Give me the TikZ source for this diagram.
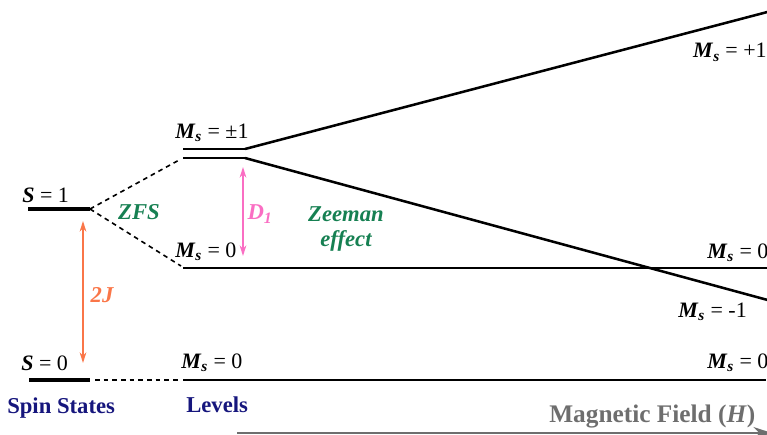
\documentclass[tikz,border=0pt]{standalone}
\usepackage{fontspec}
\setmainfont{Liberation Serif}
\usetikzlibrary{positioning, arrows.meta}
\definecolor{exchorange}{RGB}{250,118,72}
\definecolor{zfspink}{RGB}{250,110,195}
\definecolor{zeemangreen}{RGB}{22,128,82}
\definecolor{captionblue}{RGB}{22,22,125}
\definecolor{fieldgray}{RGB}{110,110,110}

\newcommand{\Mlab}[1]{\textbf{\textit{M}}\textsubscript{\textbf{\textit{s}}} = #1}
\newcommand{\Slab}[1]{\textbf{\textit{S}} = #1}

\begin{document}
\begin{tikzpicture}[x=0.75pt, y=-0.75pt,
    every node/.style={font=\fontsize{16.5}{19}\selectfont, inner sep=0pt},
    spinlevel/.style={line width=2.4pt},
    mslevel/.style={line width=1.9pt},
    zeeman/.style={line width=1.9pt},
    corr/.style={line width=1.2pt, dash pattern=on 3.5pt off 3pt},
    lab/.style={anchor=base west},
    gap/.style={line width=1.1pt, {Stealth[length=8pt,width=5pt]}-{Stealth[length=8pt,width=5pt]}},
    caption/.style={anchor=base west, text=captionblue, font=\fontsize{17}{19}\selectfont\bfseries},
    effect/.style={text=zeemangreen, align=center, font=\fontsize{17}{19}\selectfont\bfseries\itshape},
  ]
    \useasboundingbox (0,0) rectangle (767,435);
    \clip (0,0) rectangle (767,435);
    % spin states
    \coordinate (S1a) at (28,209);  \coordinate (S1b) at (90,209);
    \coordinate (S0a) at (29,380);  \coordinate (S0b) at (90,380);
    \draw[spinlevel] (S1a) -- (S1b);
    \draw[spinlevel] (S0a) -- (S0b);
    % zero-field levels
    \coordinate (Pa) at (183,149);  \coordinate (Pb) at (245,149);
    \coordinate (Ma) at (183,158);  \coordinate (Mb) at (245,158);
    \coordinate (Za) at (183,268);  \coordinate (Zb) at (770,268);
    \coordinate (Ga) at (183,380);  \coordinate (Gb) at (766,380);
    \draw[mslevel] (Pa) -- (Pb);
    \draw[mslevel] (Ma) -- (Mb);
    \draw[mslevel] (Za) -- (Zb);
    \draw[mslevel] (Ga) -- (Gb);
    % Zeeman branches
    \coordinate (Pend) at (775,10);
    \coordinate (Mend) at (775,302);
    \draw[zeeman] (Pb) -- (Pend);
    \draw[zeeman] (Mb) -- (Mend);
    % correlation lines
    \draw[corr] (S1b) -- (181,159);
    \draw[corr] (S1b) -- (181,266);
    \draw[corr] (95,380) -- (180,380);
    % gaps
    \coordinate (Jtop) at (83,221);  \coordinate (Jbot) at (83,363);
    \coordinate (Dtop) at (243,167); \coordinate (Dbot) at (243,256);
    \draw[gap, exchorange] (Jtop) -- (Jbot);
    \draw[gap, zfspink] (Dtop) -- (Dbot);
    \node[text=exchorange, font=\fontsize{17}{19}\selectfont\bfseries\itshape] (J) at (102,295) {2J};
    \node[text=zfspink, font=\fontsize{17}{19}\selectfont\bfseries\itshape] (D) at (260,214) {D\textsubscript{1}};
    \node[text=zeemangreen, font=\fontsize{17}{19}\selectfont\bfseries\itshape] (zfs) at (139,212) {ZFS};
    \node[effect] (zee) at (346,229) {Zeeman\\effect};
    % level labels
    \node[lab] (lS1) at (22,202) {\Slab{1}};
    \node[lab] (lS0) at (21,370) {\Slab{0}};
    \node[lab] (lP) at (175,138) {\Mlab{±1}};
    \node[lab] (lZ) at (175,257) {\Mlab{0}};
    \node[lab] (lG) at (181,368) {\Mlab{0}};
    \node[anchor=base east] (rP) at (767,58) {\Mlab{+1}};
    \node[lab] (rZ) at (707,258) {\Mlab{0}};
    \node[lab] (rM) at (678,317) {\Mlab{-1}};
    \node[lab] (rG) at (707,368) {\Mlab{0}};
    % captions
    \node[caption] (spin) at (7,413) {Spin States};
    \node[caption] (lev) at (186,412) {Levels};
    \node[anchor=base west, text=fieldgray, font=\fontsize{19}{21}\selectfont\bfseries] (field) at (549,422) {Magnetic Field (\textit{H})};
    \coordinate (Hfrom) at (237,433);
    \coordinate (Hto) at (772,433);
    \draw[fieldgray, line width=1.5pt, -{Stealth[length=14pt,width=9pt]}] (Hfrom) -- (Hto);
\end{tikzpicture}
\end{document}
